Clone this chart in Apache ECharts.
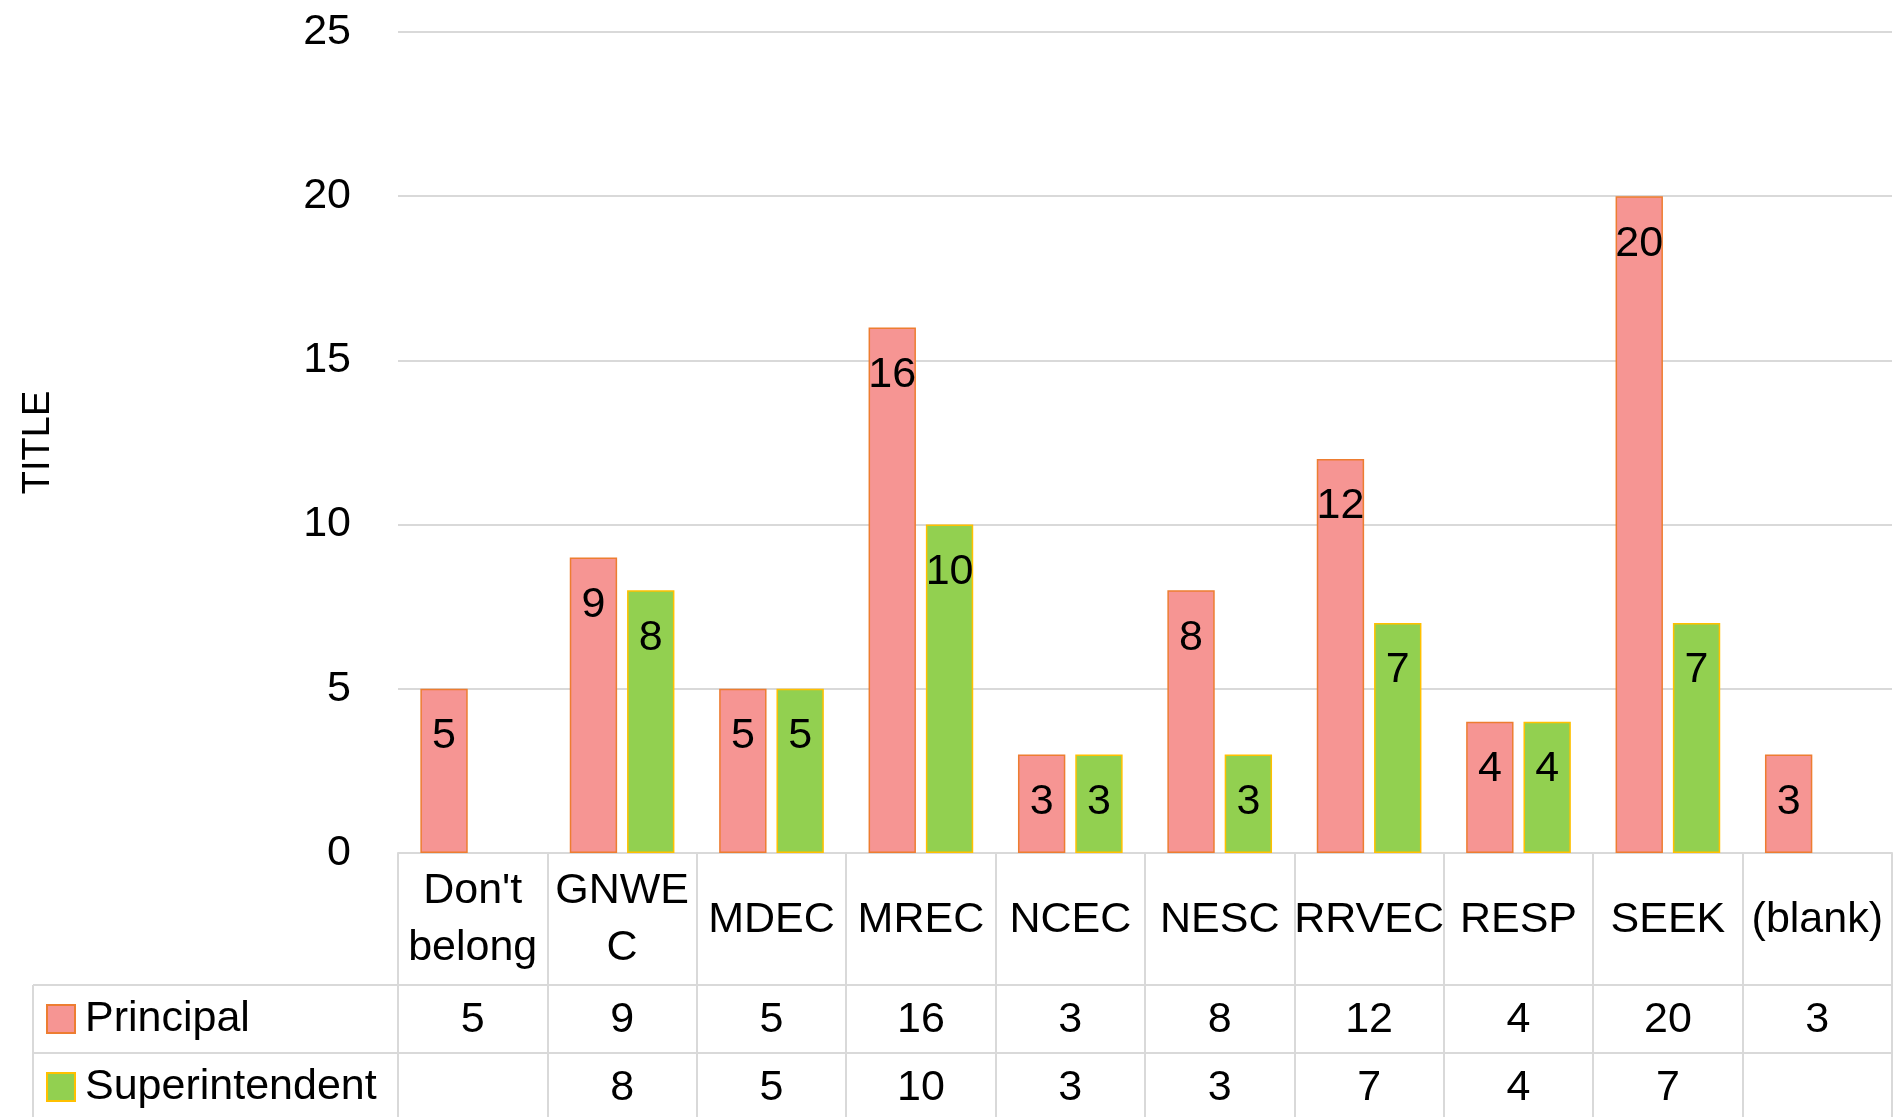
<!DOCTYPE html>
<html>
<head>
<meta charset="utf-8">
<script src="https://cdn.jsdelivr.net/npm/echarts@6/dist/echarts.min.js"></script>
<style>
html,body{margin:0;padding:0;background:#fff;}
#chart{width:1895px;height:1117px;}
</style>
</head>
<body>
<div id="chart"></div>
<script>
// ---- data ----
var categories = ["Don't belong", "GNWEC", "MDEC", "MREC", "NCEC", "NESC", "RRVEC", "RESP", "SEEK", "(blank)"];
var categoryLabels = ["Don't\nbelong", "GNWE\nC", "MDEC", "MREC", "NCEC", "NESC", "RRVEC", "RESP", "SEEK", "(blank)"];
var principal = [5, 9, 5, 16, 3, 8, 12, 4, 20, 3];
var superintendent = [null, 8, 5, 10, 3, 3, 7, 4, 7, null];
var seriesNames = ["Principal", "Superintendent"];
var yTicks = {min: 0, max: 25, interval: 5};
var yName = "TITLE";

// ---- layout ----
var W = 1895, H = 1117;
var gridLeft = 398, gridRight = 3, gridTop = 32, gridBottom = 264;
var axisY = H - gridBottom;          // 853
var row1Top = axisY + 132;           // 985
var row2Top = axisY + 200;           // 1053
var tableLeft = 33;
var FONT = "'Liberation Sans', Arial, sans-serif";
var FS = 43;
var lineCol = '#d9d9d9';

var chart = echarts.init(document.getElementById('chart'), null, {renderer: 'canvas'});

function valLabel(arr) {
  return function (v, i) { var x = arr[i]; return (x === null || x === undefined) ? '' : String(x); };
}

var option = {
  animation: false,
  backgroundColor: '#ffffff',
  textStyle: {fontFamily: FONT},
  grid: {left: gridLeft, right: gridRight, top: gridTop, bottom: gridBottom, containLabel: false},
  legend: [
    {
      data: [seriesNames[0]], left: 46, top: 994, padding: 0, orient: 'vertical',
      itemWidth: 28, itemHeight: 28, icon: 'rect', selectedMode: false,
      textStyle: {fontSize: FS, fontFamily: FONT, color: '#000', lineHeight: 50, padding: [0, 0, 0, 5]}
    },
    {
      data: [seriesNames[1]], left: 46, top: 1062, padding: 0, orient: 'vertical',
      itemWidth: 28, itemHeight: 28, icon: 'rect', selectedMode: false,
      textStyle: {fontSize: FS, fontFamily: FONT, color: '#000', lineHeight: 50, padding: [0, 0, 0, 5]}
    }
  ],
  xAxis: [
    {
      type: 'category', data: categories, position: 'bottom', boundaryGap: true,
      axisLine: {show: true, lineStyle: {color: lineCol, width: 2}},
      axisTick: {show: true, interval: 0, alignWithLabel: false, length: 280, lineStyle: {color: lineCol, width: 2}},
      axisLabel: {
        interval: 0, margin: 67, verticalAlign: 'middle', fontSize: FS, lineHeight: 57, color: '#000', fontFamily: FONT,
        formatter: function (v, i) { return categoryLabels[i]; }
      },
      splitLine: {show: false}
    },
    {
      type: 'category', data: categories, position: 'bottom', offset: 132, boundaryGap: true,
      axisLine: {show: true, lineStyle: {color: lineCol, width: 2}},
      axisTick: {show: false},
      axisLabel: {interval: 0, margin: 35, verticalAlign: 'middle', fontSize: FS, color: '#000', fontFamily: FONT, formatter: valLabel(principal)},
      splitLine: {show: false}
    },
    {
      type: 'category', data: categories, position: 'bottom', offset: 200, boundaryGap: true,
      axisLine: {show: true, lineStyle: {color: lineCol, width: 2}},
      axisTick: {show: false},
      axisLabel: {interval: 0, margin: 35, verticalAlign: 'middle', fontSize: FS, color: '#000', fontFamily: FONT, formatter: valLabel(superintendent)},
      splitLine: {show: false}
    }
  ],
  yAxis: {
    type: 'value', min: yTicks.min, max: yTicks.max, interval: yTicks.interval,
    name: yName, nameLocation: 'middle', nameRotate: 90, nameGap: 340,
    nameTextStyle: {fontSize: 38, color: '#000', fontFamily: FONT},
    axisLine: {show: false}, axisTick: {show: false},
    axisLabel: {fontSize: FS, color: '#000', margin: 47, fontFamily: FONT},
    splitLine: {show: true, lineStyle: {color: lineCol, width: 2}}
  },
  series: [
    {
      name: seriesNames[0], type: 'bar', xAxisIndex: 0, data: principal,
      barWidth: '31.7%', barGap: '21%',
      itemStyle: {color: '#F69593', borderColor: '#ED7D31', borderWidth: 1.5},
      label: {show: true, position: 'insideTop', distance: 26, fontSize: FS, color: '#000', fontFamily: FONT}
    },
    {
      name: seriesNames[1], type: 'bar', xAxisIndex: 0, data: superintendent,
      barWidth: '31.7%', barGap: '21%',
      itemStyle: {color: '#92D050', borderColor: '#FFC000', borderWidth: 1.5},
      label: {show: true, position: 'insideTop', distance: 26, fontSize: FS, color: '#000', fontFamily: FONT}
    }
  ],
  graphic: [
    {type: 'line', silent: true, shape: {x1: tableLeft, y1: row1Top, x2: gridLeft, y2: row1Top}, style: {stroke: lineCol, lineWidth: 2}},
    {type: 'line', silent: true, shape: {x1: tableLeft, y1: row2Top, x2: gridLeft, y2: row2Top}, style: {stroke: lineCol, lineWidth: 2}},
    {type: 'line', silent: true, shape: {x1: tableLeft, y1: row1Top, x2: tableLeft, y2: H}, style: {stroke: lineCol, lineWidth: 2}}
  ]
};
chart.setOption(option);
</script>
</body>
</html>
